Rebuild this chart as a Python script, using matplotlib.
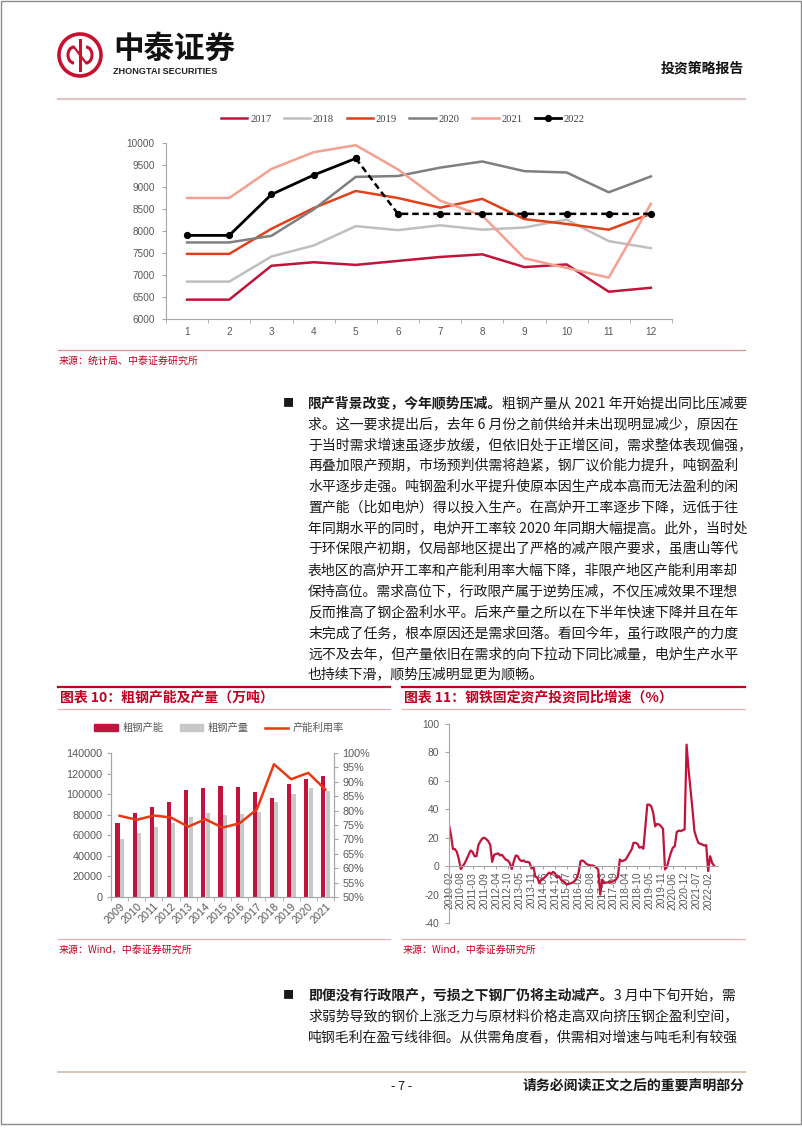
import matplotlib
matplotlib.use('Agg')
import matplotlib.pyplot as plt
import matplotlib.transforms as mtransforms
import numpy as np
from matplotlib.patches import Circle, Arc, Rectangle, Patch
from matplotlib.lines import Line2D

plt.rcParams['font.family'] = ['Liberation Sans', 'Noto Sans CJK SC', 'DejaVu Sans']
plt.rcParams['axes.unicode_minus'] = False

W, H = 802, 1133
CJK = ['Noto Sans CJK SC', 'DejaVu Sans']
RED = '#C0143C'
TITLE_RED = '#C00020'
TICK = '#595959'
AXC = '#A6A6A6'

# ---- chart 1: monthly crude steel output (10k t), by year ----
months = [1, 2, 3, 4, 5, 6, 7, 8, 9, 10, 11, 12]
out_2017 = [6440, 6440, 7210, 7290, 7230, 7320, 7410, 7470, 7180, 7240, 6620, 6710]
out_2018 = [6850, 6850, 7420, 7670, 8110, 8020, 8130, 8030, 8080, 8260, 7770, 7610]
out_2019 = [7480, 7480, 8050, 8520, 8910, 8750, 8530, 8730, 8270, 8160, 8030, 8390]
out_2020 = [7740, 7740, 7890, 8490, 9230, 9250, 9440, 9580, 9360, 9330, 8880, 9240]
out_2021 = [8750, 8750, 9410, 9790, 9950, 9400, 8690, 8350, 7380, 7160, 6940, 8620]
out_2022 = [7900, 7900, 8830, 9270, 9650]
est_months = [5, 6, 7, 8, 9, 10, 11, 12]
est_2022 = [9650, 8390, 8390, 8390, 8390, 8390, 8390, 8390]

# ---- chart 10: capacity / output / utilisation ----
years = ['2009', '2010', '2011', '2012', '2013', '2014', '2015',
         '2016', '2017', '2018', '2019', '2020', '2021']
capacity = [72300, 81200, 87100, 92300, 104200, 106300, 108400,
            106500, 101800, 96600, 109800, 114500, 117800]
production = [56800, 62400, 67900, 71500, 77800, 82000, 80100,
              80600, 82900, 92600, 99700, 106100, 103200]
utilization = [78.2, 76.8, 78.3, 77.6, 74.4, 77.0, 74.1,
               75.6, 80.4, 96.1, 90.9, 93.1, 87.3]

# ---- chart 11: steel fixed-asset investment yoy (%), Feb 2010 - May 2022 (no Jan) ----
invest_yoy = [
    28.8, 22, 12, 12, 10, 5, -2, 0, 2, 5, 8,
    11, 10, 7, 7, 15, 17.5, 19.5, 20, 19, 17.5, 15,
    3, 8, 8.5, 9, 7.5, 8, 6, 4.5, 4, 2, -2,
    3.5, 7.5, 7, 4.5, 3.5, 4, 3, 3, 2.5, -1.5, -0.5,
    -7.5, -8, -12, -9.5, -9, -7.5, -6, -4.5, -5.5, -4, -5,
    -8, -7, -9.5, -10.5, -11.5, -13, -12.5, -12, -11.5, -10.5, -8.5,
    -4.5, 3.5, 4, 3, 1.5, 1, 0.5, 0.5, 0, -1, -2.5,
    -20, -9.5, -12, -11.5, -11.5, -11, -11, -10.5, -9.5, -7.5, 4.7,
    3.5, 4, 4.7, 7, 9.4, 11.7, 16.4, 16.4, 15.7, 13, 13.5,
    12.2, 28, 43.3, 43.3, 42, 37.5, 28, 29.7, 29.3, 28, 26.2,
    -2.3, -0.5, 4.7, 9.4, 13, 14, 24, 25, 24.6, 25.3, 25.8,
    85.5, 68, 54, 40, 24.6, 20, 16.4, 15.7, 15.2, 14.5, 14.8,
    -3.5, 7, 2.3, 0.3,
]
invest_months = []
for yr in range(2010, 2023):
    for mo in range(2, 13):
        invest_months.append(f'{yr}-{mo:02d}')
invest_months = invest_months[:len(invest_yoy)]

# ---- page text ----
para1_bold = '限产背景改变，今年顺势压减。'
para1 = [
    '粗钢产量从 2021 年开始提出同比压减要',
    '求。这一要求提出后，去年 6 月份之前供给并未出现明显减少，原因在',
    '于当时需求增速虽逐步放缓，但依旧处于正增区间，需求整体表现偏强，',
    '再叠加限产预期，市场预判供需将趋紧，钢厂议价能力提升，吨钢盈利',
    '水平逐步走强。吨钢盈利水平提升使原本因生产成本高而无法盈利的闲',
    '置产能（比如电炉）得以投入生产。在高炉开工率逐步下降，远低于往',
    '年同期水平的同时，电炉开工率较 2020 年同期大幅提高。此外，当时处',
    '于环保限产初期，仅局部地区提出了严格的减产限产要求，虽唐山等代',
    '表地区的高炉开工率和产能利用率大幅下降，非限产地区产能利用率却',
    '保持高位。需求高位下，行政限产属于逆势压减，不仅压减效果不理想',
    '反而推高了钢企盈利水平。后来产量之所以在下半年快速下降并且在年',
    '末完成了任务，根本原因还是需求回落。看回今年，虽行政限产的力度',
    '远不及去年，但产量依旧在需求的向下拉动下同比减量，电炉生产水平',
    '也持续下滑，顺势压减明显更为顺畅。',
]
para2_bold = '即便没有行政限产，亏损之下钢厂仍将主动减产。'
para2 = [
    '3 月中下旬开始，需',
    '求弱势导致的钢价上涨乏力与原材料价格走高双向挤压钢企盈利空间，',
    '吨钢毛利在盈亏线徘徊。从供需角度看，供需相对增速与吨毛利有较强',
]


def box(x0, y0, x1, y1):
    return [x0 / W, 1 - y1 / H, (x1 - x0) / W, (y1 - y0) / H]


fig = plt.figure(figsize=(W / 100, H / 100), dpi=100)
fig.patch.set_facecolor('white')

# page layer in pixel coordinates
page = fig.add_axes([0, 0, 1, 1])
page.set_xlim(0, W)
page.set_ylim(H, 0)
page.axis('off')

page.add_patch(Rectangle((0.5, 0.5), W - 1.5, 1123, fill=False, ec='#8C8C8C', lw=1))

# logo
page.add_patch(Circle((80, 55), 21, fill=False, ec='#C8102E', lw=2.6))
page.add_patch(Arc((74, 55), 12, 16, theta1=90, theta2=270, ec='#C8102E', lw=2.2))
page.add_patch(Arc((86, 55), 12, 16, theta1=-90, theta2=90, ec='#C8102E', lw=2.2))
page.plot([80, 80], [40, 70], color='#C8102E', lw=2.2)
page.plot([74, 86], [47, 63], color='#C8102E', lw=1.6)
page.text(113, 49, '中泰证券', family=CJK, fontsize=22, weight='bold', va='center', ha='left', color='#111111')
page.text(113, 71, 'ZHONGTAI SECURITIES', family=['Liberation Sans'], fontsize=6.6, weight='bold',
          va='center', ha='left', color='#222222')
page.text(744, 69, '投资策略报告', family=CJK, fontsize=10, weight='bold', va='center', ha='right', color='#111111')
page.plot([58, 745], [99, 99], color='#DCC8C8', lw=1.6)

# ---- chart 1 ----
ax1 = fig.add_axes(box(166, 143, 672, 319))
ax1.plot(months, out_2017, color='#C0143C', lw=1.8, label='2017')
ax1.plot(months, out_2018, color='#BFBFBF', lw=1.8, label='2018')
ax1.plot(months, out_2019, color='#E0401A', lw=1.8, label='2019')
ax1.plot(months, out_2020, color='#7F7F7F', lw=1.8, label='2020')
ax1.plot(months, out_2021, color='#F4A090', lw=1.8, label='2021')
ax1.plot(months[:5], out_2022, color='black', lw=2, marker='o', ms=4.2, label='2022')
ax1.plot(est_months, est_2022, color='black', lw=1.8, ls=(0, (2.6, 1.6)), marker='o', ms=4.2)
ax1.set_xlim(0.5, 12.5)
ax1.set_ylim(6000, 10000)
ax1.set_yticks([6000, 6500, 7000, 7500, 8000, 8500, 9000, 9500, 10000])
ax1.set_xticks(months)
ax1.set_xticks(np.arange(0.5, 13, 1), minor=True)
for s in ['top', 'right']:
    ax1.spines[s].set_visible(False)
for s in ['left', 'bottom']:
    ax1.spines[s].set_color(AXC)
    ax1.spines[s].set_linewidth(0.8)
ax1.tick_params(axis='x', which='major', length=0, pad=6, labelsize=7.2, labelcolor=TICK)
ax1.tick_params(axis='x', which='minor', length=3, color=AXC, direction='out')
ax1.tick_params(axis='y', length=3, color=AXC, pad=5, labelsize=7.2, labelcolor=TICK)
ax1.legend(ncol=6, loc='center', bbox_to_anchor=(403 / W, 1 - 119 / H), bbox_transform=fig.transFigure,
           frameon=False, prop={'family': 'Liberation Serif', 'size': 7.6}, handlelength=2.5,
           handletextpad=0.25, columnspacing=1.2, labelcolor='#404040')

page.plot([58, 745], [350, 350], color='#D99694', lw=1)
page.text(59, 361, '来源：统计局、中泰证券研究所', family=CJK, fontsize=7.2, color=TITLE_RED, va='center', ha='left')

# ---- body text ----
FS = 10.0
EM = FS * 100 / 72
TXT = '#1A1A1A'


def paragraph(bold, lines, y0, step):
    page.text(283, y0, '■', family=CJK, fontsize=8, va='center', ha='left', color=TXT)
    page.text(308, y0, bold, family=CJK, fontsize=FS, weight='bold', va='center', ha='left', color=TXT)
    for k, ln in enumerate(lines):
        x = 308 + (len(bold) * EM if k == 0 else 0)
        page.text(x, y0 + k * step, ln, family=CJK, fontsize=FS, va='center', ha='left', color=TXT)


paragraph(para1_bold, para1, 403, 20.9)
paragraph(para2_bold, para2, 995, 21)

# ---- figure title blocks ----
for xa, xb, title in [(58, 390, '图表 10：粗钢产能及产量（万吨）'),
                      (402, 745, '图表 11：钢铁固定资产投资同比增速（%）')]:
    page.plot([xa, xb], [687, 687], color=TITLE_RED, lw=1.6)
    page.plot([xa, xb], [709, 709], color='#E6B0B0', lw=0.9)
    page.plot([xa, xb], [939, 939], color='#E6B0B0', lw=0.9)
    page.text(xa + 2, 698, title, family=CJK, fontsize=10, weight='bold', style='italic',
              color=TITLE_RED, va='center', ha='left')
    page.text(xa + 1, 950, '来源：Wind，中泰证券研究所', family=CJK, fontsize=7.2,
              color=TITLE_RED, va='center', ha='left')

# ---- chart 10 ----
axL = fig.add_axes(box(111, 753, 334, 897))
xi = np.arange(len(years))
axL.bar(xi - 0.12, capacity, width=0.24, color='#C0143C')
axL.bar(xi + 0.14, production, width=0.24, color='#C8C8C8')
axL.set_xlim(-0.5, len(years) - 0.5)
axL.set_ylim(0, 140000)
axL.set_yticks(range(0, 140001, 20000))
axL.set_xticks(xi)
axL.set_xticks(np.arange(-0.5, len(years), 1), minor=True)
offset = mtransforms.ScaledTranslation(4 / 72, 0, fig.dpi_scale_trans)
axL.set_xticklabels(years, rotation=45, ha='right', va='top', rotation_mode='anchor')
for lab in axL.get_xticklabels():
    lab.set_transform(lab.get_transform() + offset)
axR = axL.twinx()
axR.plot(xi, utilization, color='#E63A14', lw=1.8)
axR.set_ylim(50, 100)
axR.set_yticks(range(50, 101, 5))
axR.set_yticklabels([f'{v}%' for v in range(50, 101, 5)])
for a in (axL, axR):
    a.spines['top'].set_visible(False)
    for s in ['left', 'right', 'bottom']:
        a.spines[s].set_color(AXC)
        a.spines[s].set_linewidth(0.8)
axL.tick_params(axis='x', which='major', length=0, pad=3, labelsize=7.8, labelcolor=TICK)
axL.tick_params(axis='x', which='minor', length=3, color=AXC)
axL.tick_params(axis='y', length=3, color=AXC, pad=3, labelsize=7.8, labelcolor=TICK)
axR.tick_params(axis='y', length=3, color=AXC, pad=3, labelsize=7.8, labelcolor=TICK)
fig.legend(handles=[Patch(color='#C0143C'), Patch(color='#C8C8C8'), Line2D([], [], color='#E63A14', lw=1.8)],
           labels=['粗钢产能', '粗钢产量', '产能利用率'], ncol=3, loc='center',
           bbox_to_anchor=(219 / W, 1 - 728 / H), frameon=False,
           prop={'family': CJK, 'size': 7.4}, labelcolor='#595959', handlelength=2.3,
           handleheight=0.6, handletextpad=0.4, columnspacing=1.6)

# ---- chart 11 ----
axI = fig.add_axes(box(449, 724, 718, 923))
axI.spines['top'].set_visible(False)
axI.spines['right'].set_visible(False)
axI.spines['bottom'].set_position(('data', 0))
ii = np.arange(len(invest_yoy))
axI.plot(ii, invest_yoy, color='#C0143C', lw=1.6)
axI.set_xlim(0, 137)
axI.set_ylim(-40, 100)
axI.set_yticks(range(-40, 101, 20))
tick_idx = list(range(0, len(invest_yoy), 6))
axI.set_xticks(tick_idx)
axI.set_xticklabels([invest_months[i] for i in tick_idx], rotation=90, va='top', ha='center')
for s in ['left', 'bottom']:
    axI.spines[s].set_color(AXC)
    axI.spines[s].set_linewidth(0.8)
axI.tick_params(axis='x', length=2, color=AXC, pad=2, labelsize=7.4, labelcolor=TICK)
axI.tick_params(axis='y', length=3, color=AXC, pad=4, labelsize=7.4, labelcolor=TICK)

# ---- footer ----
page.plot([58, 745], [1072, 1072], color='#D8C4B4', lw=1.4)
page.text(402, 1086, '- 7 -', family=CJK, fontsize=9, va='center', ha='center', color=TXT)
page.text(745, 1086, '请务必阅读正文之后的重要声明部分', family=CJK, fontsize=10, weight='bold',
          va='center', ha='right', color=TXT)

fig.savefig('out.png', dpi=100, facecolor='white')
